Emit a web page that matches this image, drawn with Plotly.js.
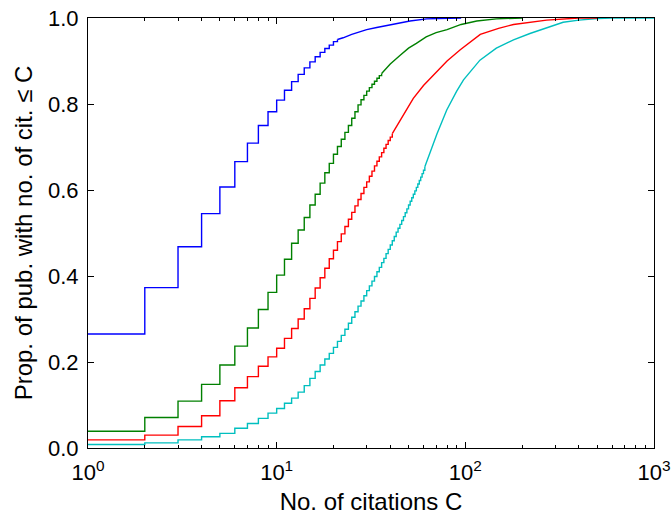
<!DOCTYPE html>
<html>
<head>
<meta charset="utf-8">
<script src="https://cdn.plot.ly/plotly-3.0.1.min.js"></script>
<style>html,body{margin:0;padding:0;background:#fff;}#chart{width:672px;height:515px;}</style>
</head>
<body>
<div id="chart"></div>
<script>
// Stair part (one step per integer citation count C) and smooth tail of each CDF
var blueStepC = [1,2,3,4,5,6,7,8,9,10,11,12,13,14,15,16,17,18,19,20,21];
var blueStepF = [0.265,0.373,0.468,0.545,0.607,0.666,0.709,0.750,0.782,0.809,0.832,0.852,0.869,0.884,0.898,0.910,0.920,0.929,0.937,0.945,0.950];
var blueTailC = [21,22.5,25,27.6,30,33.9,41.5,50.9,62.4,79.7,95];
var blueTailF = [0.950,0.954,0.962,0.968,0.973,0.978,0.985,0.993,0.998,1.0,1.0];

var greenStepC = [1,2,3,4,5,6,7,8,9,10,11,12,13,14,15,16,17,18,19,20,21,22,23,24,25,26,27,28,29,30,31,32,33,34,35,36];
var greenStepF = [0.039,0.071,0.109,0.148,0.193,0.237,0.279,0.322,0.362,0.402,0.439,0.476,0.507,0.536,0.565,0.590,0.616,0.640,0.662,0.683,0.701,0.718,0.734,0.750,0.767,0.782,0.798,0.810,0.820,0.830,0.838,0.846,0.853,0.860,0.866,0.871];
var greenTailC = [36,40,45,50,55,62,70,80,95,115,146,200];
var greenTailF = [0.871,0.893,0.913,0.930,0.941,0.956,0.966,0.973,0.985,0.993,0.998,1.0];

var redStepC = [1,2,3,4,5,6,7,8,9,10,11,12,13,14,15,16,17,18,19,20,21,22,23,24,25,26,27,28,29,30,31,32,33,34,35,36,37,38,39,40,41];
var redStepF = [0.019,0.030,0.050,0.075,0.110,0.140,0.166,0.190,0.212,0.232,0.255,0.278,0.300,0.324,0.348,0.372,0.396,0.418,0.440,0.460,0.480,0.498,0.515,0.532,0.548,0.563,0.578,0.592,0.606,0.619,0.632,0.644,0.656,0.667,0.677,0.687,0.697,0.706,0.715,0.723,0.731];
var redTailC = [41,45,50,53,60,70,80,94,100,115,120,150,180,270,400,500];
var redTailF = [0.731,0.760,0.795,0.813,0.843,0.873,0.900,0.926,0.935,0.955,0.962,0.976,0.985,0.995,1.0,1.0];

var cyanStepC = [1,2,3,4,5,6,7,8,9,10,11,12,13,14,15,16,17,18,19,20,21,22,23,24,25,26,27,28,29,30,31,32,33,34,35,36,37,38,39,40,41,42,43,44,45,46,47,48,49,50,51,52,53,54,55,56,57,58,59,60,61];
var cyanStepF = [0.008,0.012,0.019,0.026,0.034,0.046,0.057,0.069,0.081,0.092,0.104,0.116,0.130,0.145,0.162,0.178,0.193,0.207,0.220,0.234,0.248,0.262,0.276,0.290,0.304,0.317,0.330,0.342,0.354,0.366,0.377,0.388,0.399,0.410,0.420,0.431,0.441,0.452,0.462,0.472,0.482,0.492,0.502,0.511,0.520,0.529,0.538,0.547,0.556,0.565,0.574,0.582,0.590,0.598,0.606,0.614,0.622,0.630,0.638,0.646,0.654];
var cyanTailC = [61,65,70.7,79.7,90,97.8,119.5,146,180,220,270,330,400,500,600,1000];
var cyanTailF = [0.654,0.688,0.730,0.786,0.830,0.856,0.902,0.930,0.949,0.964,0.978,0.990,0.995,0.999,1.0,1.0];

var xTickVals = [1,10,100,1000];
var xTickText = ['10<sup>0</sup>','10<sup>1</sup>','10<sup>2</sup>','10<sup>3</sup>'];
var xMinorVals = [2,3,4,5,6,7,8,9,20,30,40,50,60,70,80,90,200,300,400,500,600,700,800,900];
var yTickVals = [0,0.2,0.4,0.6,0.8,1.0];
var yTickText = ['0.0','0.2','0.4','0.6','0.8','1.0'];

var colors = {blue:'rgb(0,0,255)', green:'rgb(0,128,0)', red:'rgb(255,0,0)', cyan:'rgb(0,191,191)'};

function stairs(x, y, c) {
  return {x:x, y:y, type:'scatter', mode:'lines', line:{color:c, width:1.4, shape:'hv'}, showlegend:false, hoverinfo:'x+y'};
}
function tail(x, y, c) {
  return {x:x, y:y, type:'scatter', mode:'lines', line:{color:c, width:1.4, shape:'linear'}, showlegend:false, hoverinfo:'x+y'};
}

var data = [
  stairs(cyanStepC, cyanStepF, colors.cyan), tail(cyanTailC, cyanTailF, colors.cyan),
  stairs(redStepC, redStepF, colors.red), tail(redTailC, redTailF, colors.red),
  stairs(greenStepC, greenStepF, colors.green), tail(greenTailC, greenTailF, colors.green),
  stairs(blueStepC, blueStepF, colors.blue), tail(blueTailC, blueTailF, colors.blue)
];

var font = {family:'"Liberation Sans", Arial, sans-serif', color:'#000'};

var layout = {
  width:672, height:515,
  margin:{l:88, r:18, t:18, b:67, pad:0},
  paper_bgcolor:'#fff', plot_bgcolor:'#fff',
  font:{family:font.family, color:'#000', size:22},
  xaxis:{
    type:'log', range:[0,3], autorange:false,
    tickmode:'array', tickvals:xTickVals, ticktext:xTickText,
    ticks:'inside', ticklen:6, tickwidth:1, tickcolor:'#000',
    minor:{tickmode:'array', tickvals:xMinorVals, ticks:'inside', ticklen:3, tickwidth:1, tickcolor:'#000', showgrid:false},
    showline:true, linecolor:'#000', linewidth:1, mirror:'ticks',
    showgrid:false, zeroline:false,
    tickfont:{family:font.family, size:22, color:'#000'},
    ticklabelstandoff:5,
    title:{text:'No. of citations C', font:{family:font.family, size:24, color:'#000'}, standoff:13}
  },
  yaxis:{
    range:[0,1], autorange:false,
    tickmode:'array', tickvals:yTickVals, ticktext:yTickText,
    ticks:'inside', ticklen:6, tickwidth:1, tickcolor:'#000',
    showline:true, linecolor:'#000', linewidth:1, mirror:'ticks',
    showgrid:false, zeroline:false,
    tickfont:{family:font.family, size:22, color:'#000'},
    ticklabelstandoff:4,
    title:{text:'Prop. of pub. with no. of cit. ≤ C', font:{family:font.family, size:24, color:'#000'}, standoff:8}
  }
};

Plotly.newPlot('chart', data, layout, {displayModeBar:false, staticPlot:true});
</script>
</body>
</html>
